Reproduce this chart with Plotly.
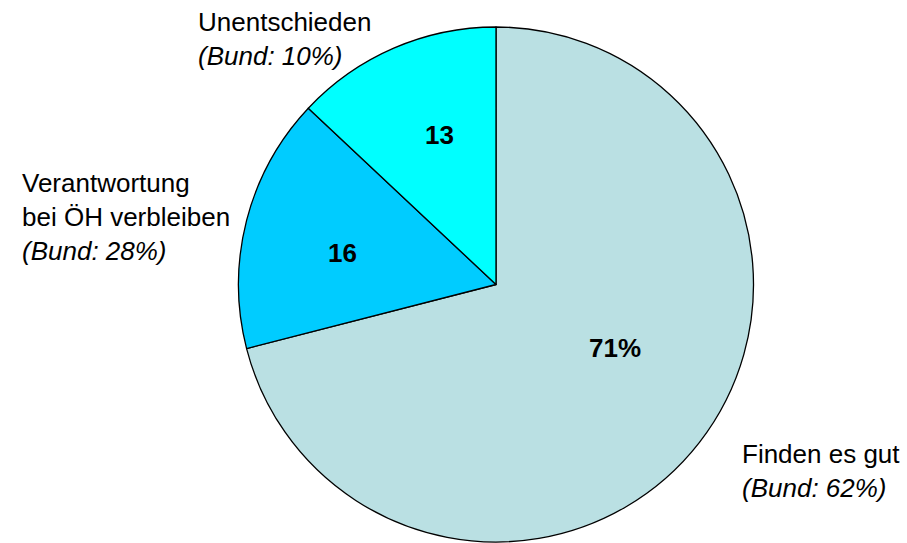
import plotly.graph_objects as go

W, H = 907, 543

categories = ["Finden es gut", "Verantwortung bei ÖH verbleiben", "Unentschieden"]
values = [71, 16, 13]
slice_text = ["71%", "16", "13"]
bund_values = ["62%", "28%", "10%"]
label_lines = [["Finden es gut"], ["Verantwortung", "bei ÖH verbleiben"], ["Unentschieden"]]
colors = ["#BAE0E3", "#00CCFF", "#00FFFF"]

FONT = "Liberation Sans, Arial, sans-serif"

fig = go.Figure(go.Pie(
    labels=categories,
    values=values,
    textinfo="none",
    marker=dict(colors=colors, line=dict(color="black", width=1.3)),
    sort=False,
    direction="clockwise",
    rotation=0,
    domain=dict(x=[238.5 / W, 753.5 / W], y=[1 / H, 1 - 27 / H]),
    showlegend=False,
    hoverinfo="label+value",
))

# in-slice value labels (centre positions in px)
value_pos = [(615, 348), (342, 253), (439, 135)]
for txt, (px, py) in zip(slice_text, value_pos):
    fig.add_annotation(
        x=px / W, y=1 - py / H, xref="paper", yref="paper",
        xanchor="center", yanchor="middle",
        text=f"<b>{txt}</b>", showarrow=False,
        font=dict(family=FONT, size=26, color="black"),
    )

# outside label positions (px, top-left)
label_pos = [(740, 437), (20, 166), (196, 5)]
for lines, bund, (px, py) in zip(label_lines, bund_values, label_pos):
    txt = "<br>".join(lines) + f"<br><i>(Bund: {bund})</i>"
    fig.add_annotation(
        x=px / W, y=1 - py / H, xref="paper", yref="paper",
        xanchor="left", yanchor="top", align="left",
        text=txt, showarrow=False,
        font=dict(family=FONT, size=26, color="black"),
    )

fig.update_layout(
    width=W, height=H,
    margin=dict(l=0, r=0, t=0, b=0),
    paper_bgcolor="white", plot_bgcolor="white",
)

fig.write_html("out.html", config={"displayModeBar": False},
               post_script="document.body.style.margin='0';")
